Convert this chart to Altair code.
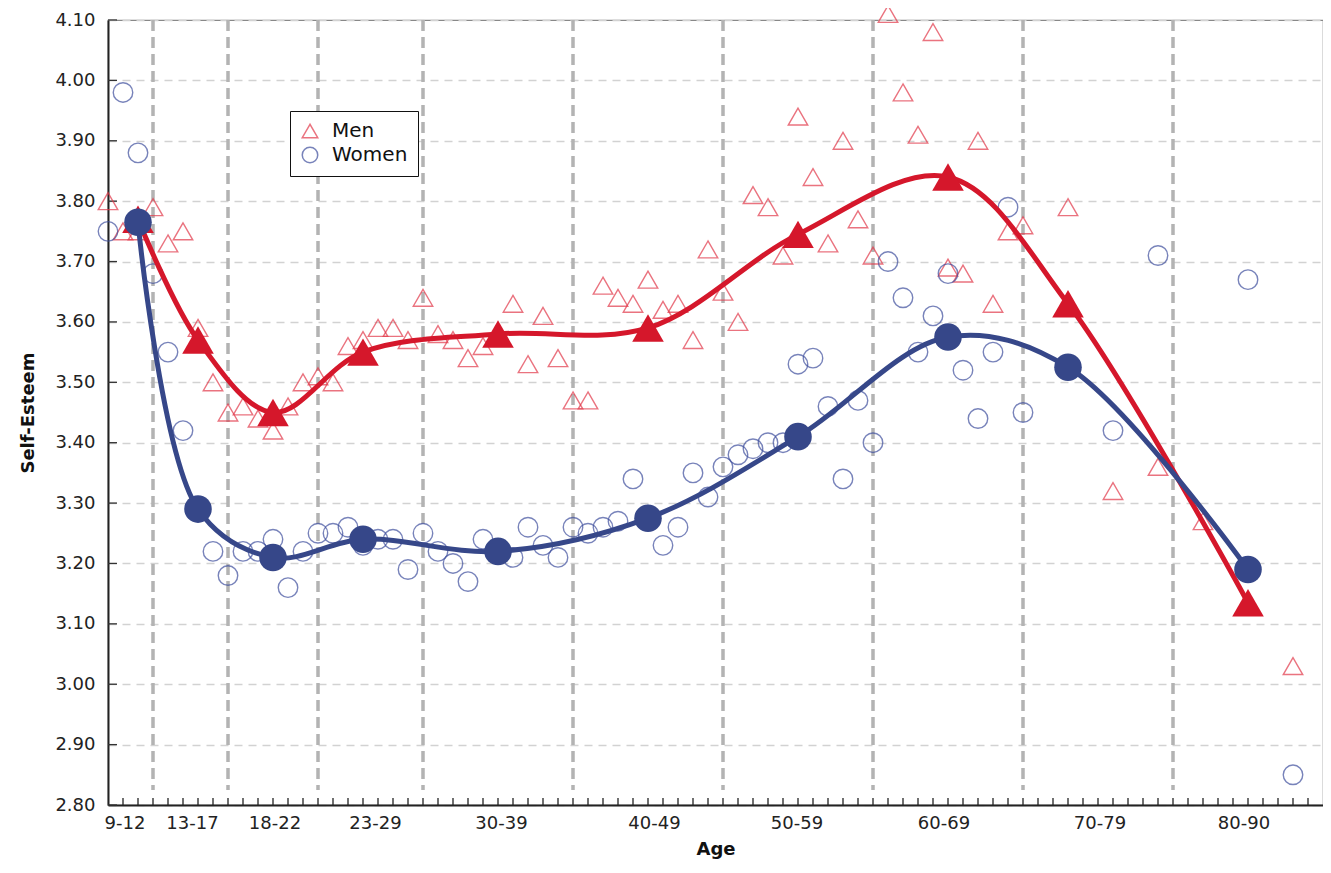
import altair as alt
import pandas as pd

# ---- data ----
ages = list(range(9, 71)) + [73, 76, 79, 82, 85, 88]

men_scores = [3.80, 3.75, 3.75, 3.79, 3.73, 3.75, 3.59, 3.50, 3.45, 3.46,
              3.44, 3.42, 3.46, 3.50, 3.51, 3.50, 3.56, 3.57, 3.59, 3.59,
              3.57, 3.64, 3.58, 3.57, 3.54, 3.56, 3.58, 3.63, 3.53, 3.61,
              3.54, 3.47, 3.47, 3.66, 3.64, 3.63, 3.67, 3.62, 3.63, 3.57,
              3.72, 3.65, 3.60, 3.81, 3.79, 3.71, 3.94, 3.84, 3.73, 3.90,
              3.77, 3.71, 4.11, 3.98, 3.91, 4.08, 3.69, 3.68, 3.90, 3.63,
              3.75, 3.76,
              3.79, 3.32, 3.36, 3.27, 3.13, 3.03]

women_scores = [3.75, 3.98, 3.88, 3.68, 3.55, 3.42, None, 3.22, 3.18, 3.22,
                3.22, 3.24, 3.16, 3.22, 3.25, 3.25, 3.26, 3.23, 3.24, 3.24,
                3.19, 3.25, 3.22, 3.20, 3.17, 3.24, 3.22, 3.21, 3.26, 3.23,
                3.21, 3.26, 3.25, 3.26, 3.27, 3.34, 3.28, 3.23, 3.26, 3.35,
                3.31, 3.36, 3.38, 3.39, 3.40, 3.40, 3.53, 3.54, 3.46, 3.34,
                3.47, 3.40, 3.70, 3.64, 3.55, 3.61, 3.68, 3.52, 3.44, 3.55,
                3.79, 3.45,
                None, 3.42, 3.71, None, 3.67, 2.85]

mean_ages = [11, 15, 20, 26, 35, 45, 55, 65, 73, 85]
men_means = [3.77, 3.57, 3.45, 3.55, 3.58, 3.59, 3.745, 3.84, 3.63, 3.135]
women_means = [3.765, 3.29, 3.21, 3.24, 3.22, 3.275, 3.41, 3.575, 3.525, 3.19]

group_labels = ["9-12", "13-17", "18-22", "23-29", "30-39", "40-49",
                "50-59", "60-69", "70-79", "80-90"]
group_label_pos = [10.1, 14.6, 20.1, 26.8, 35.2, 45.4, 54.9, 64.7, 75.1, 84.7]
group_bounds = [12, 17, 23, 30, 40, 50, 60, 70, 80]
minor_ticks = list(range(10, 90))
y_ticks = [2.8, 2.9, 3.0, 3.1, 3.2, 3.3, 3.4, 3.5, 3.6, 3.7, 3.8, 3.9, 4.0, 4.1]

RED = "#d5172b"
RED_OPEN = "#e2394a"
BLUE = "#364789"
BLUE_OPEN = "#3f4f9e"
FONT = "DejaVu Sans"

W, H = 1215, 785

# ---- tables ----
rows = []
for a, v in zip(ages, men_scores):
    if v is not None:
        rows.append({"Age": a, "Score": v, "Sex": "Men"})
for a, v in zip(ages, women_scores):
    if v is not None:
        rows.append({"Age": a, "Score": v, "Sex": "Women"})
pts = pd.DataFrame(rows)
men_df = pd.DataFrame({"Age": mean_ages, "Score": men_means})
women_df = pd.DataFrame({"Age": mean_ages, "Score": women_means})
bounds_df = pd.DataFrame({"Age": group_bounds})
minor_df = pd.DataFrame({"Age": minor_ticks})
yt_df = pd.DataFrame({"Score": y_ticks})

xscale = alt.Scale(domain=[9, 90], nice=False, zero=False)
yscale = alt.Scale(domain=[2.8, 4.1], nice=False, zero=False)

pos_list = "[" + ",".join(str(p) for p in group_label_pos) + "]"
lab_list = "[" + ",".join("'" + s + "'" for s in group_labels) + "]"

x_axis = alt.Axis(values=group_label_pos,
                  labelExpr=lab_list + "[indexof(" + pos_list + ", datum.value)]",
                  tickSize=0, grid=False, domainColor="#222222", domainWidth=2,
                  labelFontSize=18, labelColor="#222222", labelPadding=9,
                  title="Age", titleFontSize=18, titleFontWeight="bold",
                  titleColor="#111111", titlePadding=8, labelFlush=False)
y_axis = alt.Axis(values=y_ticks, format=".2f", tickSize=0,
                  grid=True, gridDash=[8, 6], gridColor="#d2d2d2", gridWidth=1.5,
                  domainColor="#222222", domainWidth=2,
                  labelFontSize=18, labelColor="#222222", labelPadding=13,
                  title="Self-Esteem", titleFontSize=18, titleFontWeight="bold",
                  titleColor="#111111", titlePadding=17)

X = alt.X("Age:Q", scale=xscale, axis=x_axis)
Y = alt.Y("Score:Q", scale=yscale, axis=y_axis)

legend = alt.Legend(orient="none", legendX=182, legendY=91,
                    title=None, fillColor="white",
                    strokeColor="#111111", padding=10,
                    rowPadding=3, labelFontSize=20,
                    labelFont=FONT, labelColor="#111111",
                    labelOffset=12, symbolSize=240,
                    symbolStrokeWidth=1.5)

bounds = alt.Chart(bounds_df).mark_rule(
    color="#b3b3b3", strokeWidth=3.5, strokeDash=[11, 6]
).encode(x=X, y=alt.value(0), y2=alt.value(H - 15))

minor = alt.Chart(minor_df).mark_rule(color="#222222", strokeWidth=1.3).encode(
    x=X, y=alt.value(H), y2=alt.value(H - 7))

yticks = alt.Chart(yt_df).mark_rule(color="#333333", strokeWidth=1.3).encode(
    y=Y, x=alt.value(0), x2=alt.value(9))

scatter = alt.Chart(pts).mark_point(filled=False, size=380, strokeWidth=1.4).encode(
    x=X,
    y=Y,
    color=alt.Color("Sex:N", scale=alt.Scale(domain=["Men", "Women"],
                                             range=[RED_OPEN, BLUE_OPEN]),
                    legend=legend),
    shape=alt.Shape("Sex:N", scale=alt.Scale(domain=["Men", "Women"],
                                             range=["triangle-up", "circle"]),
                    legend=legend),
)

men_line = alt.Chart(men_df).mark_line(color=RED, strokeWidth=5,
                                       interpolate="catmull-rom").encode(x=X, y=Y)
women_line = alt.Chart(women_df).mark_line(color=BLUE, strokeWidth=5,
                                           interpolate="catmull-rom").encode(x=X, y=Y)
men_pts = alt.Chart(men_df).mark_point(shape="triangle-up", filled=True, opacity=1,
                                       size=1000, color=RED).encode(x=X, y=Y)
women_pts = alt.Chart(women_df).mark_point(shape="circle", filled=True, opacity=1,
                                           size=760, color=BLUE).encode(x=X, y=Y)

chart = alt.layer(
    bounds, minor, yticks, scatter, men_line, women_line, men_pts, women_pts
).properties(
    width=W, height=H,
    autosize=alt.AutoSizeParams(type="none"),
    padding={"left": 100, "top": 12, "right": 0, "bottom": 60},
).configure(font=FONT).configure_view(stroke="#888888", strokeWidth=1.2)

chart.save("out.html", embed_options={"renderer": "svg", "actions": False})
